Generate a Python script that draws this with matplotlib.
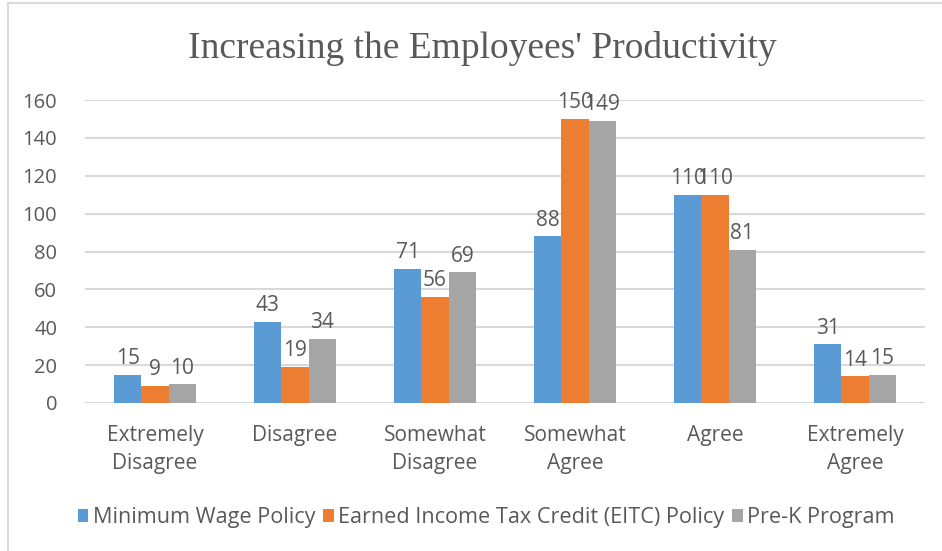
import matplotlib.pyplot as plt
from matplotlib.patches import Rectangle
import numpy as np

categories = ['Extremely\nDisagree', 'Disagree', 'Somewhat\nDisagree',
              'Somewhat\nAgree', 'Agree', 'Extremely\nAgree']
min_wage = [15, 43, 71, 88, 110, 31]
eitc = [9, 19, 56, 150, 110, 14]
pre_k = [10, 34, 69, 149, 81, 15]
series_names = ['Minimum Wage Policy',
                'Earned Income Tax Credit (EITC) Policy',
                'Pre-K Program']
colors = ['#5B9BD5', '#ED7D31', '#A5A5A5']
yticks = [0, 20, 40, 60, 80, 100, 120, 140, 160]

txt = '#595959'
plt.rcParams['font.family'] = ['Open Sans', 'DejaVu Sans']

fig = plt.figure(figsize=(9.42, 5.51), dpi=100)
ax = fig.add_axes([85/942, 1-403/551, 840/942, 303/551])

# outer frame of the chart
fig.patches.append(Rectangle((8/942, -0.01), 1.2, 1-3/551+0.01,
                             transform=fig.transFigure, fill=False,
                             edgecolor='#D9D9D9', lw=1.5))

x = np.arange(len(categories))
w = 0.195
for i, (vals, name) in enumerate(zip([min_wage, eitc, pre_k], series_names)):
    bars = ax.bar(x + (i-1)*w, vals, w, color=colors[i], label=name, zorder=3)
    for b, v in zip(bars, vals):
        ax.annotate(str(v), (b.get_x()+b.get_width()/2, b.get_height()),
                    xytext=(0, 4), textcoords='offset points',
                    ha='center', va='bottom', fontsize=15, color=txt)

ax.set_xlim(-0.5, len(categories)-0.5)
ax.set_ylim(0, 160)
ax.set_yticks(yticks)
ax.set_xticks(x)
ax.set_xticklabels(categories, fontsize=15, color=txt, linespacing=1.45)
ax.tick_params(axis='y', labelsize=14.5, labelcolor=txt, length=0, pad=20)
ax.tick_params(axis='x', length=0, pad=16)
ax.grid(axis='y', color='#D9D9D9', lw=1.5, zorder=0)
for s in ax.spines.values():
    s.set_visible(False)

fig.text(482/942, 1-48/551, "Increasing the Employees' Productivity",
         ha='center', va='center', fontsize=27, color=txt,
         family='Liberation Serif')

ax.legend(loc='center', bbox_to_anchor=(486/942, 1-518/551),
          bbox_transform=fig.transFigure, ncol=3, frameon=False,
          fontsize=15.6, labelcolor=txt, handlelength=0.5, handleheight=0.55,
          handletextpad=0.2, columnspacing=0.35)

fig.savefig('out.png', dpi=100, facecolor='white')
